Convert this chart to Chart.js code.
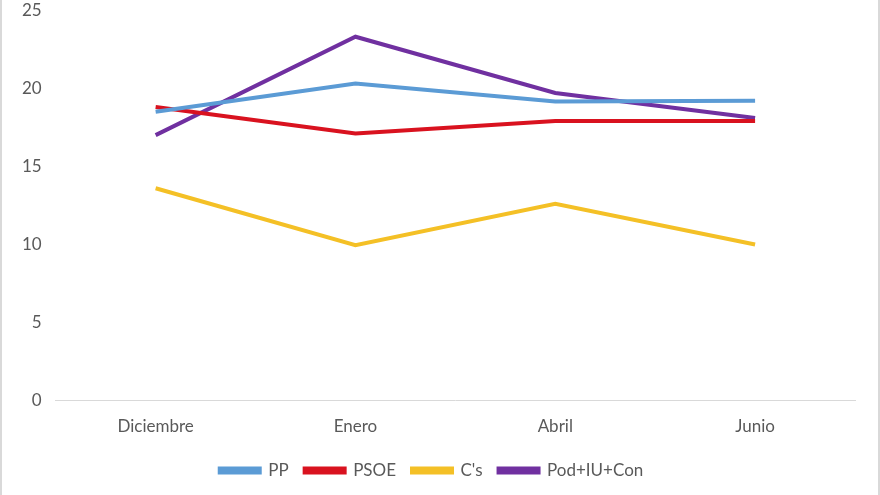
<!DOCTYPE html>
<html>
<head>
<meta charset="utf-8">
<script src="https://cdn.jsdelivr.net/npm/chart.js@4"></script>
<style>
  html, body { margin: 0; padding: 0; background: #fff; }
  #wrap { position: relative; width: 876px; height: 495px; overflow: hidden; border-left: 2px solid #d9d9d9; border-right: 2px solid #d9d9d9; }
  #chart { position: absolute; left: 0; top: -14px; }
</style>
</head>
<body>
<div id="wrap"><canvas id="chart" width="876" height="509"></canvas></div>
<script>
// months on the x axis
const months = ['Diciembre', 'Enero', 'Abril', 'Junio'];

// values per party
const pp = [18.5, 20.3, 19.15, 19.2];
const psoe = [18.8, 17.1, 17.9, 17.9];
const cs = [13.6, 9.95, 12.6, 10.0];
const podemos = [17.0, 23.3, 19.7, 18.1];

const yTicks = [0, 5, 10, 15, 20, 25];

function line(label, data, color) {
  return {
    label: label,
    data: data,
    borderColor: color,
    backgroundColor: color,
    borderWidth: 4,
    pointRadius: 0,
    tension: 0,
    fill: false,
  };
}

const font = { family: 'Lato', size: 17 };

const ctx = document.getElementById('chart').getContext('2d');
new Chart(ctx, {
  type: 'line',
  data: {
    labels: months,
    datasets: [
      line('PP', pp, '#5b9bd5'),
      line('PSOE', psoe, '#d9121f'),
      line("C's", cs, '#f4c026'),
      line('Pod+IU+Con', podemos, '#7030a0'),
    ],
  },
  options: {
    responsive: false,
    animation: false,
    layout: { padding: { top: 3, right: 23, left: 6, bottom: 6 } },
    plugins: {
      tooltip: { enabled: false },
      legend: {
        position: 'bottom',
        labels: {
          boxWidth: 40,
          boxHeight: 4,
          padding: 16,
          color: '#595959',
          font: font,
        },
      },
    },
    scales: {
      x: {
        offset: true,
        grid: { display: false, drawTicks: false },
        border: { display: true, color: '#d9d9d9', width: 1 },
        ticks: { color: '#595959', padding: 16, font: font },
        // pull the legend a bit closer to the month labels
        afterFit: (scale) => { scale.height -= 7; },
      },
      y: {
        min: 0,
        max: 25,
        afterBuildTicks: (axis) => { axis.ticks = yTicks.map(v => ({ value: v })); },
        grid: { display: false, drawTicks: false },
        border: { display: false },
        ticks: { color: '#595959', padding: 14, font: font },
      },
    },
  },
});
</script>
</body>
</html>
